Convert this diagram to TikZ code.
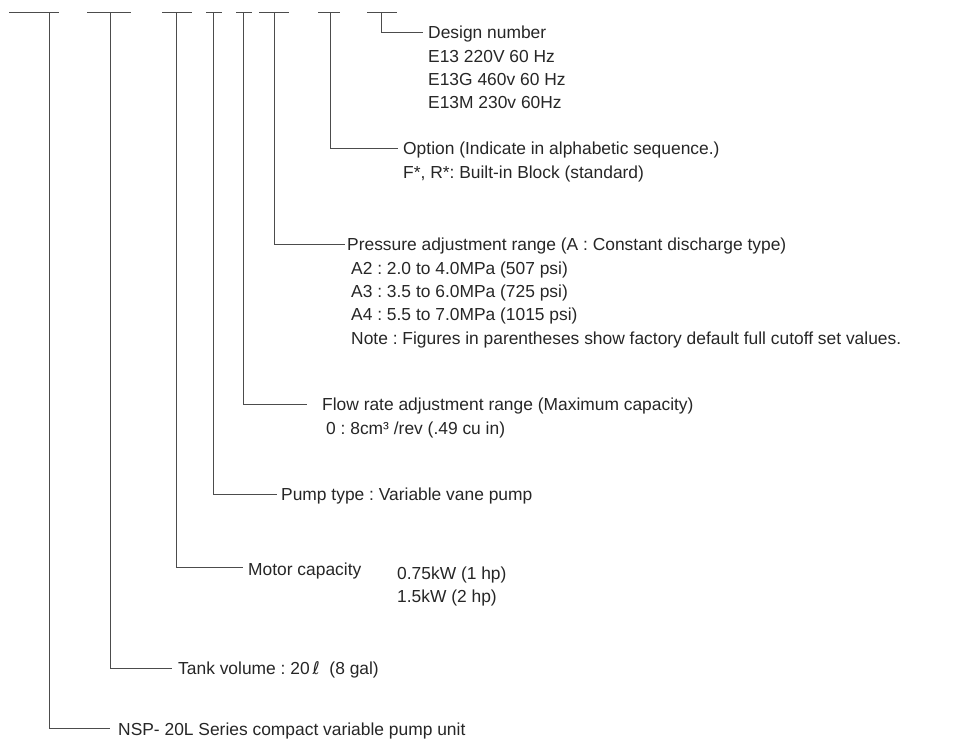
\documentclass[tikz,border=0pt]{standalone}
\usepackage{fontspec}
\setmainfont{Liberation Sans}
\newfontfamily\symfont{DejaVu Sans}
\frenchspacing
\begin{document}
\begin{tikzpicture}[x=1pt,y=-1pt,
  lbl/.style={anchor=base west,inner sep=0pt,font=\fontsize{17.4}{20}\selectfont,text=black!85},
  ln/.style={draw=black!70,line width=0.9pt},
  ]
\useasboundingbox (0,0) rectangle (966,740);
% dash row
\foreach \a/\b [count=\i] in {9/59,87/131,162/192,206/222,236/252,259/289,318/340,367/397}{
  \draw[ln] (\a,12) -- (\b,12);
}
\coordinate (v1) at (49,12);
\coordinate (v2) at (110,12);
\coordinate (v3) at (176,12);
\coordinate (v4) at (213,12);
\coordinate (v5) at (243,12);
\coordinate (v6) at (274,12);
\coordinate (v7) at (330,12);
\coordinate (v8) at (381,12);
% texts
\node[lbl] (d0) at (428,38) {Design number};
\node[lbl] (d1) at (428,62) {E13 220V 60 Hz};
\node[lbl] (d2) at (428,85) {E13G 460v 60 Hz};
\node[lbl] (d3) at (428,108) {E13M 230v 60Hz};
\node[lbl] (o0) at (403,154) {Option (Indicate in alphabetic sequence.)};
\node[lbl] (o1) at (403,178) {F*, R*: Built-in Block (standard)};
\node[lbl] (p0) at (347,250) {Pressure adjustment range (A : Constant discharge type)};
\node[lbl] (p1) at (351,274) {A2 : 2.0 to 4.0MPa (507 psi)};
\node[lbl] (p2) at (351,297) {A3 : 3.5 to 6.0MPa (725 psi)};
\node[lbl] (p3) at (351,320) {A4 : 5.5 to 7.0MPa (1015 psi)};
\node[lbl] (p4) at (351,344) {Note : Figures in parentheses show factory default full cutoff set values.};
\node[lbl] (f0) at (322,410) {Flow rate adjustment range (Maximum capacity)};
\node[lbl] (f1) at (326,434) {0 : 8cm³ /rev (.49 cu in)};
\node[lbl] (u0) at (281,500) {Pump type : Variable vane pump};
\node[lbl] (m0) at (248,575) {Motor capacity};
\node[lbl] (m1) at (397,579) {0.75kW (1 hp)};
\node[lbl] (m2) at (397,602) {1.5kW (2 hp)};
\node[lbl] (t0) at (178,674) {Tank volume : 20\,{\symfont ℓ}\ \ (8 gal)};
\node[lbl] (n0) at (118,735) {NSP- 20L Series compact variable pump unit};
% connectors
\draw[ln] (v8) |- ([xshift=-5pt,yshift=6pt]d0.base west);
\draw[ln] (v7) |- ([xshift=-5pt,yshift=6pt]o0.base west);
\draw[ln] (v6) |- ([xshift=-2pt,yshift=6pt]p0.base west);
\draw[ln] (v5) |- ([xshift=-15pt,yshift=6pt]f0.base west);
\draw[ln] (v4) |- ([xshift=-4pt,yshift=6pt]u0.base west);
\draw[ln] (v3) |- ([xshift=-5pt,yshift=8pt]m0.base west);
\draw[ln] (v2) |- ([xshift=-6pt,yshift=6pt]t0.base west);
\draw[ln] (v1) |- ([xshift=-8pt,yshift=7pt]n0.base west);
\end{tikzpicture}
\end{document}
